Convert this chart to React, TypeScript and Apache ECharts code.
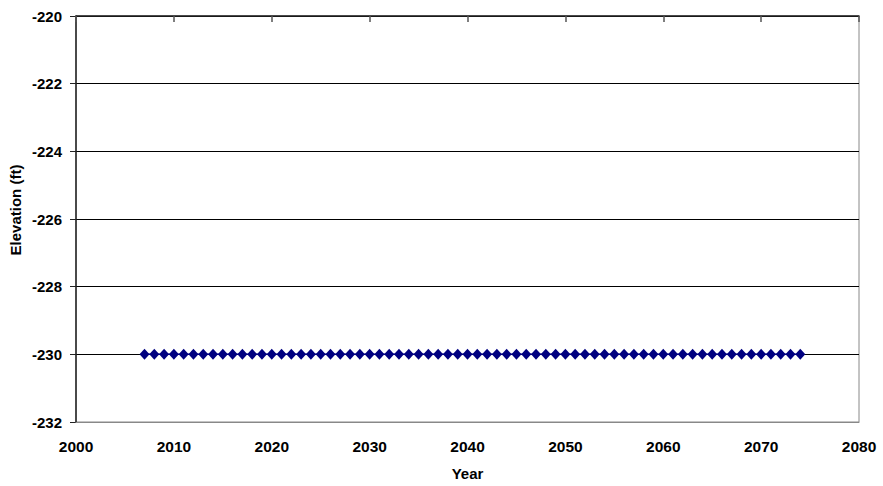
import React, { useEffect, useRef } from "react";
import * as echarts from "echarts";

const years: number[] = [];
for (let y = 2007; y <= 2074; y++) years.push(y);
const elevations: number[] = years.map(() => -230);

const xTicks = [2000, 2010, 2020, 2030, 2040, 2050, 2060, 2070, 2080];
const yTicks = [-232, -230, -228, -226, -224, -222, -220];

export default function App() {
  const ref = useRef<HTMLDivElement>(null);
  useEffect(() => {
    if (!ref.current) return;
    const chart = echarts.init(ref.current, undefined, { renderer: "svg" });
    const font = { fontFamily: "Liberation Sans, Arial, sans-serif", fontWeight: "bold" as const, fontSize: 15, color: "#000" };
    chart.setOption({
      animation: false,
      backgroundColor: "#fff",
      grid: { left: 76, right: 24, top: 16, bottom: 62, show: true, borderColor: "#888", borderWidth: 1 },
      graphic: [
        {
          type: "text",
          x: 15,
          y: 210,
          rotation: Math.PI / 2,
          style: {
            text: "Elevation (ft)",
            fontFamily: "Liberation Sans, Arial, sans-serif",
            fontWeight: "bold",
            fontSize: 15,
            fill: "#000",
            textAlign: "center",
            textVerticalAlign: "middle",
          },
        },
      ],
      xAxis: [
        {
          type: "value",
          position: "bottom",
          min: xTicks[0],
          max: xTicks[xTicks.length - 1],
          interval: 10,
          name: "Year",
          nameLocation: "middle",
          nameGap: 44,
          nameTextStyle: font,
          axisLine: { show: true, onZero: false, lineStyle: { color: "#888", width: 1 } },
          axisTick: { show: false },
          axisLabel: { ...font, fontSize: 15.5, margin: 16, formatter: (v: number) => String(v) },
          splitLine: { show: false },
          z: 5,
        },
        {
          type: "value",
          position: "top",
          min: xTicks[0],
          max: xTicks[xTicks.length - 1],
          interval: 10,
          axisLine: { show: true, onZero: false, lineStyle: { color: "#222", width: 1.5 } },
          axisTick: { show: true, inside: true, length: 6, lineStyle: { color: "#555", width: 1.5 } },
          axisLabel: { show: false },
          splitLine: { show: false },
        },
      ],
      yAxis: {
        type: "value",
        min: yTicks[0],
        max: yTicks[yTicks.length - 1],
        interval: 2,
        axisLine: { show: true, onZero: false, lineStyle: { color: "#222", width: 1.5 } },
        axisTick: { show: true, length: 6, lineStyle: { color: "#222" } },
        axisLabel: { ...font, margin: 14, formatter: (v: number) => String(v) },
        splitLine: { show: true, lineStyle: { color: "#000", width: 1 } },
      },
      series: [
        {
          type: "line",
          xAxisIndex: 0,
          data: years.map((y, i) => [y, elevations[i]]),
          symbol: "diamond",
          symbolSize: [10, 11],
          itemStyle: { color: "#000080" },
          lineStyle: { color: "#000080", width: 1.5 },
        },
      ],
    });
    return () => chart.dispose();
  }, []);
  return <div ref={ref} style={{ width: 883, height: 486, position: "absolute", left: 0, top: 0 }} />;
}
